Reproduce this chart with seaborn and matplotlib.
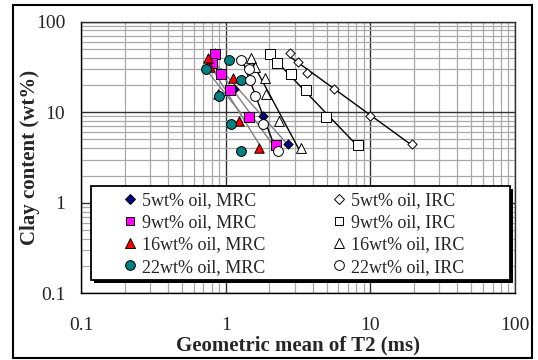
import numpy as np
import matplotlib
matplotlib.use("Agg")
import matplotlib.pyplot as plt
from matplotlib.lines import Line2D
from matplotlib.patches import Rectangle
from matplotlib import ticker
import seaborn as sns

# Clay content (wt%) of each sample set, by oil content
clay_5 = [45, 36, 27, 18, 9, 4.5]
clay_9 = [43.75, 35, 26.25, 17.5, 8.75, 4.375]
clay_16 = [40, 32, 24, 16, 8, 4]
clay_22 = [37.5, 30, 22.5, 15, 7.5, 3.75]

# Geometric mean of T2 (ms), MRC measurements
t2_mrc_5 = [0.84, 0.80, 0.93, 1.15, 1.81, 2.69]
t2_mrc_9 = [0.85, 0.80, 0.93, 1.07, 1.44, 2.23]
t2_mrc_16 = [0.76, 0.78, 1.13, 0.89, 1.24, 1.71]
t2_mrc_22 = [1.05, 0.73, 1.28, 0.90, 1.08, 1.28]

# Geometric mean of T2 (ms), IRC measurements
t2_irc_5 = [2.77, 3.15, 3.67, 5.65, 9.9, 19.4]
t2_irc_9 = [2.02, 2.27, 2.82, 3.58, 4.9, 8.25]
t2_irc_16 = [1.49, 1.60, 1.86, 1.90, 2.34, 3.31]
t2_irc_22 = [1.28, 1.46, 1.47, 1.59, 1.80, 2.29]

labels = ["5wt% oil, MRC", "9wt% oil, MRC", "16wt% oil, MRC", "22wt% oil, MRC",
          "5wt% oil, IRC", "9wt% oil, IRC", "16wt% oil, IRC", "22wt% oil, IRC"]
tick_values = [0.1, 1, 10, 100]

sns.set_style("white")
plt.rcParams["font.family"] = ["Liberation Serif", "DejaVu Serif"]

W, H = 538, 360
fig = plt.figure(figsize=(W / 100, H / 100), dpi=100)
ax = fig.add_axes([81 / W, 1 - 293.3 / H, 434 / W, 271.6 / H])

series = [
    (t2_mrc_5, clay_5, "D", "#000080", 22, 4.6, "#808080"),
    (t2_mrc_9, clay_9, "s", "#FF00FF", 42, 6.2, "#808080"),
    (t2_mrc_16, clay_16, "^", "#FF0000", 46, 6.6, "#808080"),
    (t2_mrc_22, clay_22, "o", "#008080", 50, 7.0, "#808080"),
    (t2_irc_5, clay_5, "D", "white", 22, 4.6, "black"),
    (t2_irc_9, clay_9, "s", "white", 48, 6.2, "black"),
    (t2_irc_16, clay_16, "^", "white", 50, 6.6, "black"),
    (t2_irc_22, clay_22, "o", "white", 50, 7.0, "black"),
]

handles = []
for (xs, ys, mk, fc, s, ms, lc), lab in zip(series, labels):
    # power-law trend line fitted in log-log space
    lx, ly = np.log10(xs), np.log10(ys)
    slope, icpt = np.polyfit(lx, ly, 1)
    xf = np.geomspace(min(xs), max(xs), 50)
    ax.plot(xf, 10 ** (icpt + slope * np.log10(xf)), color=lc, lw=1.0, zorder=3)
    sns.scatterplot(x=xs, y=ys, marker=mk, s=s, color=fc, edgecolor="black",
                    linewidth=0.7, ax=ax, zorder=4, legend=False)
    handles.append(Line2D([], [], marker=mk, linestyle="none", markerfacecolor=fc,
                          markeredgecolor="black", markeredgewidth=0.7, markersize=ms))

ax.set_xscale("log")
ax.set_yscale("log")
ax.set_xlim(0.1, 100)
ax.set_ylim(0.1, 100)
for axis in (ax.xaxis, ax.yaxis):
    axis.set_major_locator(ticker.FixedLocator(tick_values))
    axis.set_major_formatter(ticker.FuncFormatter(lambda v, p: f"{v:g}"))
    axis.set_minor_locator(ticker.LogLocator(base=10, subs=np.arange(2, 10)))
    axis.set_minor_formatter(ticker.NullFormatter())

ax.grid(which="major", color="#303030", lw=1.0, zorder=1)
ax.grid(which="minor", color="#a8a8a8", lw=0.9, zorder=0.5)
ax.set_axisbelow(True)
ax.tick_params(which="major", length=4.3, width=0.9, color="black",
               labelsize=14, direction="out")
ax.tick_params(axis="x", which="major", pad=12.5)
ax.tick_params(axis="y", which="major", pad=7)
ax.tick_params(which="minor", length=0)
for side in ("left", "bottom"):
    ax.spines[side].set_color("black")
    ax.spines[side].set_linewidth(1.0)
for side in ("top", "right"):
    ax.spines[side].set_color("#303030")
    ax.spines[side].set_linewidth(1.0)

ax.set_xlabel("Geometric mean of T2 (ms)", fontsize=15, fontweight="bold")
ax.set_ylabel("Clay content (wt%)", fontsize=15, fontweight="bold")
ax.xaxis.set_label_coords(0.5, -0.155)
ax.yaxis.set_label_coords(-0.095, 0.5)

# legend box with a solid drop shadow
lx0, ly0, lx1, ly1 = 91, 186, 510, 280
fig.add_artist(Rectangle(((lx0 + 3) / W, 1 - (ly1 + 3) / H), (lx1 - lx0) / W, (ly1 - ly0) / H,
                         transform=fig.transFigure, facecolor="black", edgecolor="black",
                         lw=0, zorder=2))
fig.add_artist(Rectangle((lx0 / W, 1 - ly1 / H), (lx1 - lx0) / W, (ly1 - ly0) / H,
                         transform=fig.transFigure, facecolor="white", edgecolor="black",
                         lw=1.3, zorder=3))
fig.legend(handles, labels, ncol=2, loc="upper left", frameon=False,
           bbox_to_anchor=(121 / W, 1 - 192 / H), borderaxespad=0, borderpad=0,
           fontsize=13, handlelength=1.0, handletextpad=0.15, columnspacing=3.6,
           labelspacing=0.29)

# outer frame of the figure
fig.add_artist(Rectangle((12.7 / W, 1 - 358 / H), 519 / W, 353 / H, transform=fig.transFigure,
                         fill=False, edgecolor="black", lw=1.5, zorder=10))

fig.savefig("out.png", dpi=100)
